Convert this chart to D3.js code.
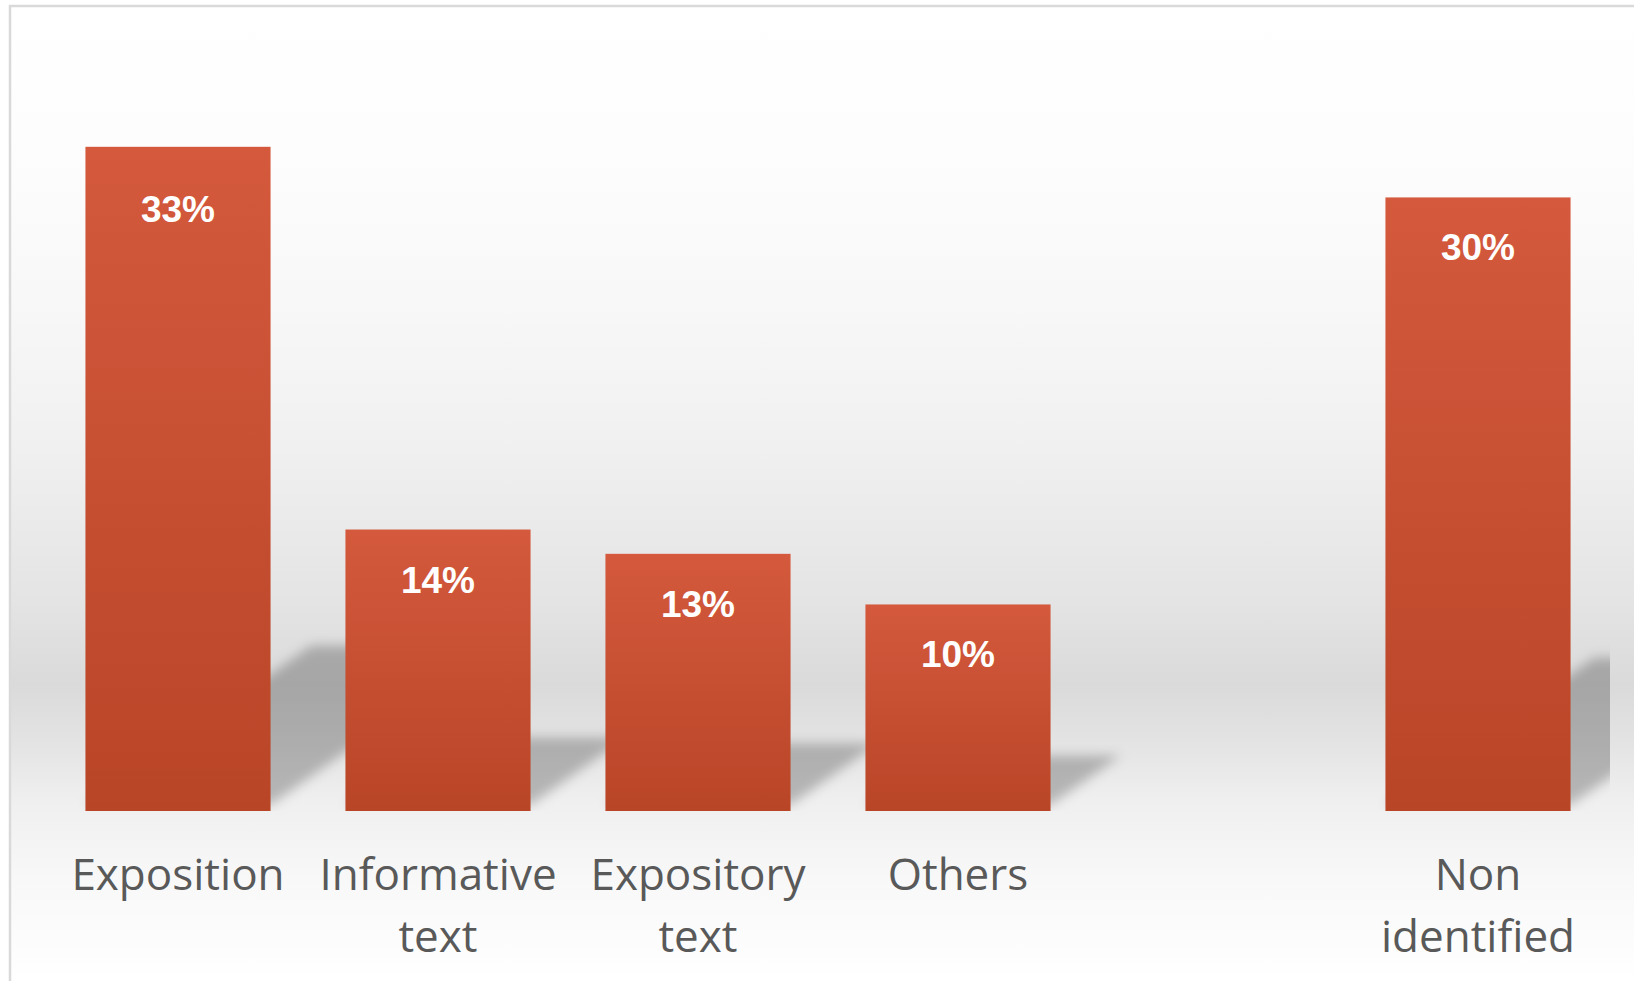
<!DOCTYPE html>
<html>
<head>
<meta charset="utf-8">
<script src="https://cdn.jsdelivr.net/npm/d3@7.9.0/dist/d3.min.js"></script>
<style>
  body { margin: 0; background: #fff; }
  svg { display: block; }
</style>
</head>
<body>
<svg id="chart" width="1634" height="981"></svg>
<script>
// chart data (the blank slot is an empty category in the source chart)
const categories = ['Exposition', 'Informative text', 'Expository text', 'Others', '', 'Non identified'];
const values = [32.8, 13.9, 12.7, 10.2, null, 30.3];
const valueLabels = ['33%', '14%', '13%', '10%', '', '30%'];

const width = 1634, height = 981;
const base = 811;

const svg = d3.select('#chart');
const defs = svg.append('defs');

// background gradient of the chart area
const bg = defs.append('linearGradient')
  .attr('id', 'bg')
  .attr('gradientUnits', 'userSpaceOnUse')
  .attr('x1', 0).attr('y1', 6).attr('x2', 0).attr('y2', height);
[[0, '#ffffff'], [0.144, '#fdfdfd'], [0.30, '#f8f8f8'], [0.455, '#f0f0f0'],
 [0.61, '#e4e4e4'], [0.696, '#dadada'], [0.753, '#e3e3e3'], [0.814, '#efefef'],
 [0.896, '#f8f8f8'], [1, '#ffffff']].forEach(([o, c]) => {
  bg.append('stop').attr('offset', o).attr('stop-color', c);
});

const barGrad = defs.append('linearGradient')
  .attr('id', 'barGrad')
  .attr('x1', 0).attr('y1', 0).attr('x2', 0).attr('y2', 1);
barGrad.append('stop').attr('offset', 0).attr('stop-color', '#d4593d');
barGrad.append('stop').attr('offset', 1).attr('stop-color', '#b94527');

defs.append('filter')
  .attr('id', 'blur')
  .attr('x', '-20%').attr('y', '-20%').attr('width', '140%').attr('height', '140%')
  .append('feGaussianBlur').attr('stdDeviation', 6);

defs.append('clipPath').attr('id', 'plotClip')
  .append('rect').attr('x', 12).attr('y', 8).attr('width', 1598).attr('height', base - 8);

// chart frame
svg.append('rect')
  .attr('x', 10).attr('y', 6)
  .attr('width', width).attr('height', height)
  .attr('fill', 'url(#bg)')
  .attr('stroke', '#d9d9d9')
  .attr('stroke-width', 2.5);

const x = d3.scaleBand()
  .domain(categories)
  .range([48, 1608])
  .paddingInner(0.288)
  .paddingOuter(0.144);

const y = d3.scaleLinear()
  .domain([0, 40])
  .range([base, base - 810]);

const data = categories.map((c, i) => ({ cat: c, value: values[i], label: valueLabels[i] }))
  .filter((d) => d.value != null);

// perspective shadows behind the bars
svg.append('g')
  .attr('clip-path', 'url(#plotClip)')
  .selectAll('polygon')
  .data(data)
  .join('polygon')
  .attr('points', (d) => {
    const x0 = x(d.cat), x1 = x0 + x.bandwidth();
    const h = y(0) - y(d.value);
    const dx = 0.34 * h, dy = 0.24 * h;
    return [[x0, base - 6], [x1, base - 6], [x1 + dx, base - 6 - dy], [x0 + dx, base - 6 - dy]]
      .map((p) => p.join(',')).join(' ');
  })
  .attr('fill', '#000')
  .attr('fill-opacity', 0.24)
  .attr('filter', 'url(#blur)');

svg.append('g')
  .selectAll('rect')
  .data(data)
  .join('rect')
  .attr('x', (d) => x(d.cat))
  .attr('y', (d) => y(d.value))
  .attr('width', x.bandwidth())
  .attr('height', (d) => y(0) - y(d.value))
  .attr('fill', 'url(#barGrad)');

// value labels inside the bar ends
svg.append('g')
  .selectAll('text')
  .data(data)
  .join('text')
  .attr('x', (d) => x(d.cat) + x.bandwidth() / 2)
  .attr('y', (d) => Math.max(y(d.value) + 63, 222))
  .attr('text-anchor', 'middle')
  .attr('font-family', '"Liberation Sans", Arial, sans-serif')
  .attr('font-weight', 'bold')
  .attr('font-size', 37)
  .attr('fill', '#ffffff')
  .text((d) => d.label);

// category axis, one word per line
const axis = svg.append('g');
categories.forEach((c) => {
  if (!c) return;
  const t = axis.append('text')
    .attr('x', x(c) + x.bandwidth() / 2)
    .attr('y', 890)
    .attr('text-anchor', 'middle')
    .attr('font-family', '"Open Sans", sans-serif')
    .attr('font-size', 44)
    .attr('fill', '#595959');
  c.split(' ').forEach((w, i) => {
    t.append('tspan')
      .attr('x', x(c) + x.bandwidth() / 2)
      .attr('dy', i === 0 ? 0 : 62)
      .text(w);
  });
});
</script>
</body>
</html>
